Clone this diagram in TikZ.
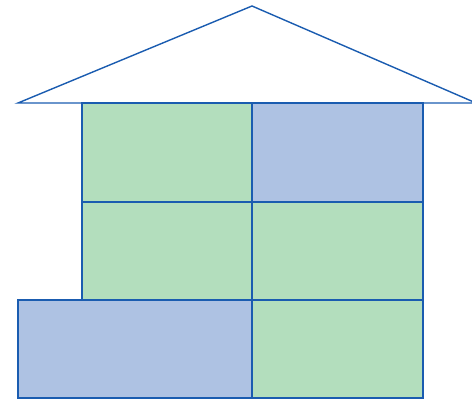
\documentclass[tikz,border=0pt]{standalone}
\usepackage{tikz}
\definecolor{wallblue}{HTML}{1A5CB0}
\definecolor{brickgreen}{HTML}{B3DEBD}
\definecolor{brickblue}{HTML}{AEC2E3}
\tikzset{
  brick/.style={draw=wallblue,line width=0.8pt,fill=brickgreen},
  bluebrick/.style={brick,fill=brickblue}
}

\begin{document}
\begin{tikzpicture}[x=0.02cm,y=-0.02cm]
\useasboundingbox (0,0) rectangle (472,401);
% roof
\draw[wallblue,line width=0.8pt] (18,103) -- (252,6) -- (476,103) -- cycle;
% top row
\draw[brick] (82,103) rectangle (252,202);
\draw[bluebrick] (252,103) rectangle (423,202);
% middle row
\draw[brick] (82,202) rectangle (252,300);
\draw[brick] (252,202) rectangle (423,300);
% bottom row
\draw[bluebrick] (18,300) rectangle (252,398);
\draw[brick] (252,300) rectangle (423,398);
\end{tikzpicture}
\end{document}
